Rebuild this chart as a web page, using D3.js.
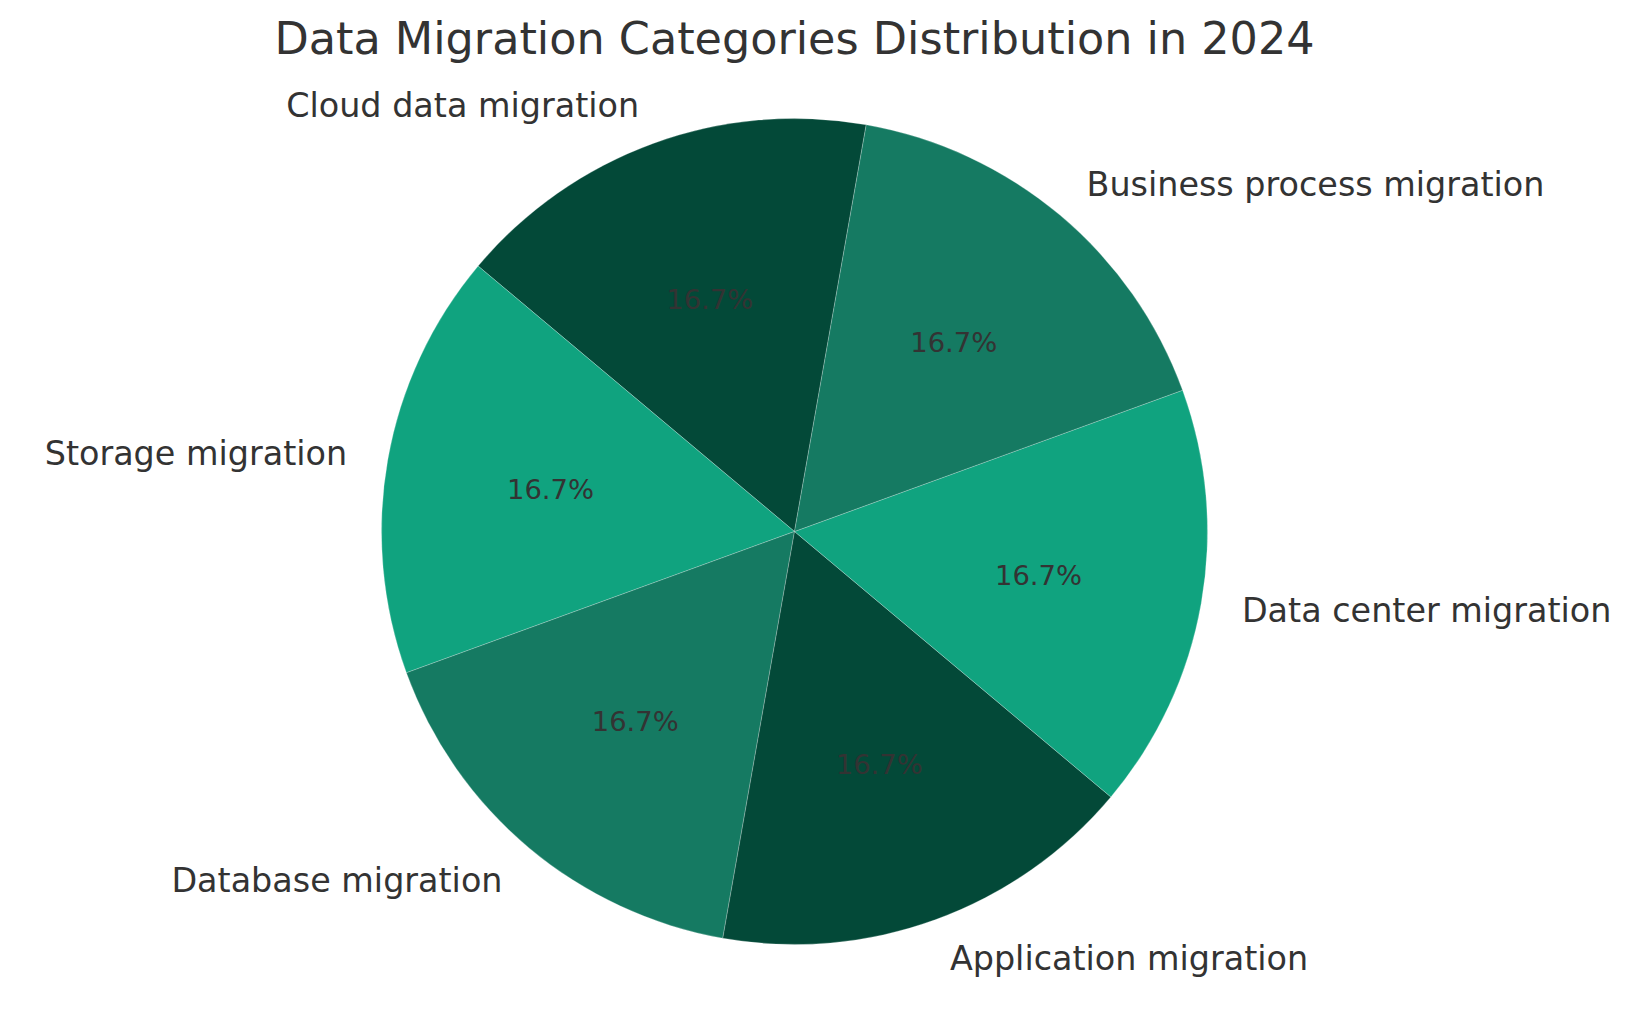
<!DOCTYPE html>
<html>
<head>
<meta charset="utf-8">
<script src="https://cdn.jsdelivr.net/npm/d3@7"></script>
<style>
  html, body { margin: 0; padding: 0; background: #ffffff; }
  svg { display: block; }
  text { font-family: "DejaVu Sans", sans-serif; fill: #333333; }
</style>
</head>
<body>
<svg id="chart" width="1632" height="1014"></svg>
<script>
const categories = [
  "Cloud data migration",
  "Storage migration",
  "Database migration",
  "Application migration",
  "Data center migration",
  "Business process migration"
];
const values = [1, 1, 1, 1, 1, 1];
const colors = ["#034938", "#10a37f", "#157a62", "#034938", "#10a37f", "#157a62"];
const titleText = "Data Migration Categories Distribution in 2024";

const W = 1632, H = 1014;
const cx = 794.5, cy = 531.5, R = 413;
const startDeg = 80; // matplotlib startangle, counter-clockwise

const svg = d3.select("#chart");
const g = svg.append("g").attr("transform", `translate(${cx},${cy})`);

const data = categories.map((c, i) => ({ name: c, value: values[i], color: colors[i] }));
const total = d3.sum(values);

const a0 = (90 - startDeg) * Math.PI / 180;
const pie = d3.pie().value(d => d.value).sort(null)
  .startAngle(a0).endAngle(a0 - 2 * Math.PI);
const arcs = pie(data);
const arc = d3.arc().innerRadius(0).outerRadius(R);

g.selectAll("path.slice").data(arcs).join("path")
  .attr("class", "slice")
  .attr("d", arc)
  .attr("fill", d => d.data.color)
  .attr("stroke", "#ffffff")
  .attr("stroke-width", 0.4)
  .attr("stroke-opacity", 0.6);

const mid = d => (d.startAngle + d.endAngle) / 2;

// percentage labels
g.selectAll("text.pct").data(arcs).join("text")
  .attr("class", "pct")
  .attr("x", d => 0.6 * R * Math.sin(mid(d)))
  .attr("y", d => -0.6 * R * Math.cos(mid(d)))
  .attr("dy", "0.37em")
  .attr("text-anchor", "middle")
  .style("font-size", "27.4px")
  .text(d => (d.data.value / total * 100).toFixed(1) + "%");

// category labels
g.selectAll("text.lbl").data(arcs).join("text")
  .attr("class", "lbl")
  .attr("x", d => 1.1 * R * Math.sin(mid(d)))
  .attr("y", d => -1.1 * R * Math.cos(mid(d)))
  .attr("dy", "0.36em")
  .attr("text-anchor", d => Math.sin(mid(d)) < 0 ? "end" : "start")
  .style("font-size", "33.4px")
  .text(d => d.data.name);

svg.append("text")
  .attr("x", cx)
  .attr("y", 53.5)
  .attr("text-anchor", "middle")
  .style("font-size", "44.5px")
  .text(titleText);
</script>
</body>
</html>
